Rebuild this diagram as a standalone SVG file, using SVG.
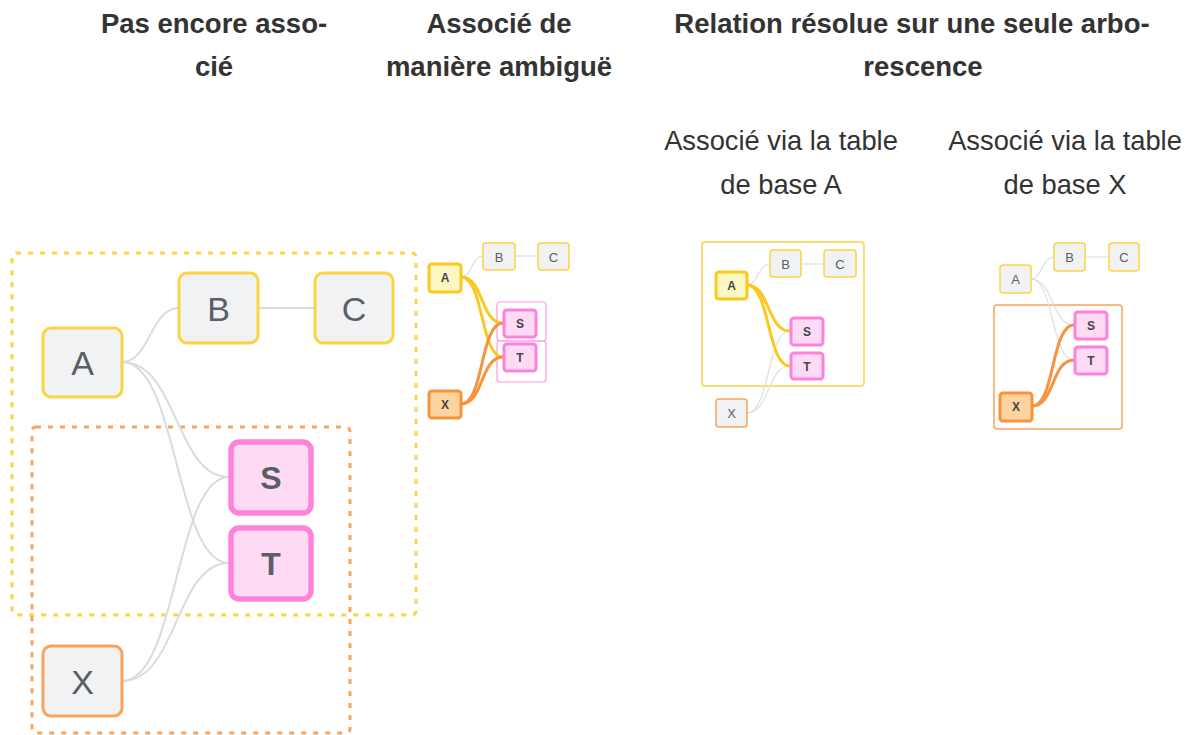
<svg xmlns="http://www.w3.org/2000/svg" width="1187" height="735" viewBox="0 0 1187 735">
<style>
.h{font-family:"Liberation Sans",Arial,sans-serif;font-weight:bold;font-size:27.5px;fill:#333;text-anchor:middle}
.sub{font-family:"Liberation Sans",Arial,sans-serif;font-size:27.3px;fill:#333;text-anchor:middle}
.nl{font-family:"Liberation Sans",Arial,sans-serif;fill:#5a5e66;text-anchor:middle;dominant-baseline:central}
.big{font-size:34px}
.bigb{font-size:32px;font-weight:bold}
.sm{font-size:13px}
.smb{font-size:12px;font-weight:bold;fill:#444}
.ybig{fill:#f1f2f4;stroke:#fcd442;stroke-width:3}
.obig{fill:#f1f2f4;stroke:#f9a45c;stroke-width:3}
.pbig{fill:#ffdaf4;stroke:#ff82da;stroke-width:5.5}
.yth{fill:#f1f2f4;stroke:#fcd442;stroke-width:1.5}
.yTk{fill:#fdf8c2;stroke:#fcc81f;stroke-width:3}
.oth{fill:#f1f2f4;stroke:#f9a45c;stroke-width:1.5}
.oTk{fill:#fdd39f;stroke:#f8923b;stroke-width:3}
.pTk{fill:#ffdaf4;stroke:#ff82da;stroke-width:3}
.e{fill:none;stroke:#d8dbe0;stroke-width:2}
.es{fill:none;stroke:#dcdfe4;stroke-width:1.2}
.ey{fill:none;stroke:#fcc81f;stroke-width:3}
.eo{fill:none;stroke:#f8923b;stroke-width:3}
</style>

<g id="titles">
<text class="h" x="214" y="33">Pas encore asso-</text>
<text class="h" x="214" y="76">cié</text>
<text class="h" x="499" y="33">Associé de</text>
<text class="h" x="499" y="76">manière ambiguë</text>
<text class="h" x="912" y="33">Relation résolue sur une seule arbo-</text>
<text class="h" x="923" y="76">rescence</text>
<text class="sub" x="781" y="150">Associé via la table</text>
<text class="sub" x="781" y="194">de base A</text>
<text class="sub" x="1065" y="150">Associé via la table</text>
<text class="sub" x="1065" y="194">de base X</text>
</g>

<g id="groups">
<rect x="12" y="253" width="404" height="362" rx="4" fill="none" stroke="#fcd442" stroke-width="3" stroke-dasharray="5 7"/>
<rect x="32" y="427" width="318" height="306" rx="4" fill="none" stroke="#f9a45c" stroke-width="3" stroke-dasharray="5 7"/>
<rect x="497" y="302" width="49" height="39" rx="3" fill="none" stroke="#ff9ae2" stroke-width="1.2"/>
<rect x="497" y="341" width="49" height="41" rx="3" fill="none" stroke="#ff9ae2" stroke-width="1.2"/>
<rect x="702" y="242" width="162" height="144" rx="3" fill="none" stroke="#fcd442" stroke-width="1.5"/>
<rect x="994" y="305" width="128" height="124" rx="3" fill="none" stroke="#f9a45c" stroke-width="1.5"/>
</g>

<g id="connectors">
<path class="e" d="M122,362 C150,362 150,308 179,308"/>
<path class="e" d="M258,308 L315,308"/>
<path class="e" d="M122,362 C178,362 175,477 229,477"/>
<path class="e" d="M122,362 C178,362 175,563 229,563"/>
<path class="e" d="M122,681 C178,681 175,477 229,477"/>
<path class="e" d="M122,681 C178,681 175,563 229,563"/>

<path class="es" d="M461,277 C472,277 472,256 483,256"/>
<path class="es" d="M515,256 L538,256"/>
<path class="ey" d="M461,277 C484,277 480,323 503,323"/>
<path class="ey" d="M461,277 C484,277 480,357 503,357"/>
<path class="eo" d="M461,404 C484,404 480,323 503,323"/>
<path class="eo" d="M461,404 C484,404 480,357 503,357"/>

<path class="es" d="M747,285 C758,285 758,264 770,264"/>
<path class="es" d="M801,264 L824,264"/>
<path class="es" d="M747,413 C770,413 767,331 790,331"/>
<path class="es" d="M747,413 C770,413 767,366 790,366"/>
<path class="ey" d="M747,285 C770,285 767,331 790,331"/>
<path class="ey" d="M747,285 C770,285 767,366 790,366"/>

<path class="es" d="M1031,279 C1042,279 1042,257 1054,257"/>
<path class="es" d="M1085,257 L1109,257"/>
<path class="es" d="M1031,279 C1054,279 1051,325 1074,325"/>
<path class="es" d="M1031,279 C1054,279 1051,360 1074,360"/>
<path class="eo" d="M1032,406 C1055,406 1051,325 1074,325"/>
<path class="eo" d="M1032,406 C1055,406 1051,360 1074,360"/>
</g>

<g id="p1-A"><rect class="ybig" x="43" y="328" width="79" height="69" rx="8"/><text class="nl big" x="82.5" y="363">A</text></g>
<g id="p1-B"><rect class="ybig" x="179" y="273" width="79" height="70" rx="8"/><text class="nl big" x="218.5" y="309">B</text></g>
<g id="p1-C"><rect class="ybig" x="315" y="273" width="78" height="70" rx="8"/><text class="nl big" x="354" y="309">C</text></g>
<g id="p1-S"><rect class="pbig" x="231" y="442" width="80" height="71" rx="8"/><text class="nl bigb" x="271" y="478">S</text></g>
<g id="p1-T"><rect class="pbig" x="231" y="528" width="80" height="71" rx="8"/><text class="nl bigb" x="271" y="564">T</text></g>
<g id="p1-X"><rect class="obig" x="43" y="646" width="79" height="70" rx="8"/><text class="nl big" x="82.5" y="682">X</text></g>

<g id="p2-A"><rect class="yTk" x="429" y="264" width="32" height="28" rx="3"/><text class="nl smb" x="445" y="278">A</text></g>
<g id="p2-B"><rect class="yth" x="483" y="243" width="32" height="27" rx="3"/><text class="nl sm" x="499" y="257">B</text></g>
<g id="p2-C"><rect class="yth" x="538" y="243" width="31" height="27" rx="3"/><text class="nl sm" x="553.5" y="257">C</text></g>
<g id="p2-S"><rect class="pTk" x="504" y="310" width="32" height="27" rx="3"/><text class="nl smb" x="520" y="324">S</text></g>
<g id="p2-T"><rect class="pTk" x="504" y="344" width="32" height="27" rx="3"/><text class="nl smb" x="520" y="358">T</text></g>
<g id="p2-X"><rect class="oTk" x="429" y="391" width="32" height="27" rx="3"/><text class="nl smb" x="445" y="405">X</text></g>

<g id="p3-A"><rect class="yTk" x="716" y="272" width="31" height="27" rx="3"/><text class="nl smb" x="731.5" y="286">A</text></g>
<g id="p3-B"><rect class="yth" x="770" y="250" width="31" height="27" rx="3"/><text class="nl sm" x="785.5" y="264">B</text></g>
<g id="p3-C"><rect class="yth" x="824" y="250" width="32" height="27" rx="3"/><text class="nl sm" x="840" y="264">C</text></g>
<g id="p3-S"><rect class="pTk" x="791" y="318" width="32" height="27" rx="3"/><text class="nl smb" x="807" y="332">S</text></g>
<g id="p3-T"><rect class="pTk" x="791" y="353" width="32" height="26" rx="3"/><text class="nl smb" x="807" y="366.5">T</text></g>
<g id="p3-X"><rect class="oth" x="716" y="399" width="31" height="28" rx="3"/><text class="nl sm" x="731.5" y="413.5">X</text></g>

<g id="p4-A"><rect class="yth" x="1000" y="265" width="31" height="28" rx="3"/><text class="nl sm" x="1015.5" y="279.5">A</text></g>
<g id="p4-B"><rect class="yth" x="1054" y="243" width="31" height="28" rx="3"/><text class="nl sm" x="1069.5" y="257.5">B</text></g>
<g id="p4-C"><rect class="yth" x="1109" y="243" width="30" height="28" rx="3"/><text class="nl sm" x="1124" y="257.5">C</text></g>
<g id="p4-S"><rect class="pTk" x="1075" y="312" width="32" height="27" rx="3"/><text class="nl smb" x="1091" y="326">S</text></g>
<g id="p4-T"><rect class="pTk" x="1075" y="347" width="32" height="27" rx="3"/><text class="nl smb" x="1091" y="361">T</text></g>
<g id="p4-X"><rect class="oTk" x="1000" y="393" width="32" height="28" rx="3"/><text class="nl smb" x="1016" y="407">X</text></g>
</svg>
